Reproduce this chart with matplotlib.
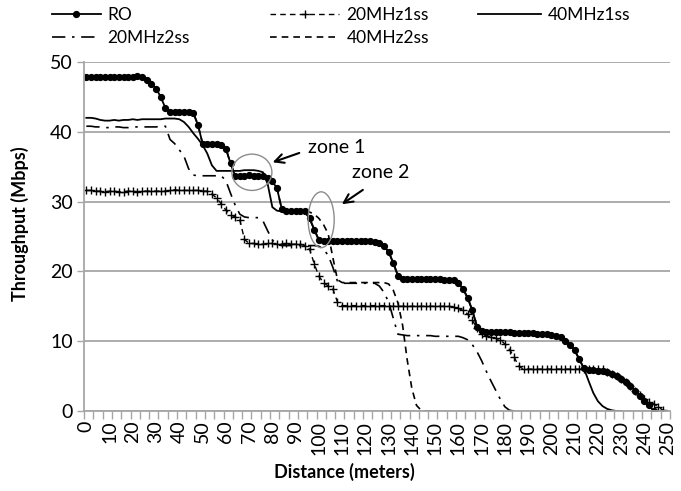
import numpy as np
import matplotlib.pyplot as plt
from matplotlib.patches import Ellipse

plt.rcParams['font.family'] = ['Lato', 'DejaVu Sans']

nan = np.nan

# distance in meters, one sample every 2 m
distance = list(range(0, 251, 2))

ro = [47.9, 47.9, 47.8, 47.9, 47.8, 47.8, 47.9, 47.9, 47.8, 47.8,
      47.9, 48.0, 47.8, 47.4, 46.9, 46.2, 45.0, 43.4, 42.8, 42.9,
      42.8, 42.8, 42.8, 42.7, 41.0, 38.3, 38.2, 38.2, 38.2, 38.1,
      37.6, 35.5, 33.7, 33.7, 33.7, 33.8, 33.7, 33.7, 33.6, 33.4,
      32.9, 31.9, 29.0, 28.7, 28.7, 28.7, 28.6, 28.6, 27.6, 26.0,
      24.5, 24.3, 24.3, 24.4, 24.3, 24.3, 24.3, 24.3, 24.3, 24.3,
      24.3, 24.3, 24.2, 24.1, 23.6, 22.8, 21.2, 19.4, 18.9, 18.9,
      18.9, 18.9, 18.9, 18.9, 18.9, 18.9, 18.9, 18.8, 18.8, 18.7,
      18.3, 17.5, 16.2, 14.4, 12.1, 11.4, 11.3, 11.3, 11.3, 11.3,
      11.3, 11.3, 11.2, 11.2, 11.2, 11.2, 11.2, 11.1, 11.1, 11.0,
      10.9, 10.8, 10.6, 10.1, 9.5, 8.7, 7.4, 6.1, 5.9, 5.9,
      5.8, 5.8, 5.6, 5.3, 5.0, 4.6, 4.1, 3.6, 2.9, 2.2,
      1.5, 0.8, 0.0, nan, nan, nan]

mhz20_1ss = [31.6, 31.6, 31.5, 31.5, 31.4, 31.5, 31.5, 31.4, 31.4, 31.5,
             31.5, 31.4, 31.5, 31.5, 31.5, 31.5, 31.5, 31.5, 31.6, 31.7,
             31.6, 31.6, 31.6, 31.6, 31.6, 31.5, 31.5, 31.1, 30.5, 29.7,
             28.8, 28.1, 27.8, 27.4, 24.6, 24.0, 24.0, 23.9, 23.9, 24.0,
             24.0, 23.9, 23.9, 24.0, 23.9, 23.9, 23.9, 23.7, 23.2, 21.1,
             19.3, 18.4, 17.9, 17.5, 15.6, 15.1, 15.1, 15.1, 15.1, 15.1,
             15.1, 15.1, 15.1, 15.1, 15.1, 15.0, 15.0, 15.0, 15.0, 15.0,
             15.0, 15.0, 15.0, 15.0, 15.0, 15.0, 15.0, 15.0, 15.0, 14.9,
             14.7, 14.4, 13.9, 13.0, 11.9, 11.0, 10.8, 10.6, 10.4, 10.2,
             9.6, 8.8, 7.7, 6.4, 6.0, 6.0, 6.0, 6.0, 6.0, 6.0,
             6.0, 6.0, 6.0, 6.0, 6.0, 6.0, 6.0, 6.0, 6.0, 6.0,
             6.0, 6.0, 5.6, 5.3, 5.0, 4.6, 4.1, 3.6, 2.9, 2.3,
             1.7, 1.3, 1.0, 0.6, 0.1, nan]

mhz40_1ss = [42.0, 42.0, 41.9, 41.7, 41.6, 41.6, 41.7, 41.6, 41.7, 41.7,
             41.8, 41.7, 41.8, 41.8, 41.8, 41.8, 41.8, 41.9, 41.9, 41.9,
             41.8, 41.4, 40.7, 39.8, 39.0, 38.1, 36.9, 35.2, 34.4, 34.4,
             34.4, 34.4, 34.4, 34.4, 34.5, 34.5, 34.5, 34.4, 34.2, 32.5,
             29.2, 28.7, 28.6, 28.6, 28.6, 28.6, 28.6, 28.5, 27.6, 26.0,
             24.5, 24.3, 24.3, 24.3, 24.3, 24.3, 24.3, 24.3, 24.3, 24.3,
             24.3, 24.3, 24.2, 24.1, 23.6, 22.8, 21.2, 19.4, 18.9, 18.9,
             18.9, 18.9, 18.9, 18.9, 18.9, 18.9, 18.9, 18.8, 18.8, 18.7,
             18.3, 17.5, 16.2, 14.4, 12.1, 11.4, 11.3, 11.3, 11.3, 11.3,
             11.3, 11.3, 11.2, 11.2, 11.2, 11.2, 11.2, 11.1, 11.1, 11.0,
             10.9, 10.8, 10.6, 10.1, 9.5, 8.7, 7.4, 6.1, 4.3, 2.6,
             1.4, 0.7, 0.3, 0.1, 0.0, 0.0, nan, nan, nan, nan,
             nan, nan, nan, nan, nan, nan]

mhz20_2ss = [40.8, 40.8, 40.7, 40.7, 40.6, 40.6, 40.7, 40.7, 40.6, 40.6,
             40.7, 40.7, 40.7, 40.7, 40.7, 40.7, 40.8, 40.8, 38.9, 38.3,
             37.4, 36.5, 34.7, 33.8, 33.7, 33.7, 33.7, 33.7, 33.7, 33.7,
             33.0, 31.2, 29.5, 28.2, 27.8, 27.7, 27.7, 27.7, 27.2, 25.8,
             24.5, 23.8, 23.7, 23.7, 23.7, 23.7, 23.7, 23.7, 23.7, 23.7,
             23.6, 23.2, 22.3, 20.6, 18.6, 18.3, 18.3, 18.3, 18.3, 18.3,
             18.3, 18.3, 18.3, 17.9, 17.0, 15.6, 13.3, 11.0, 10.9, 10.8,
             10.8, 10.8, 10.8, 10.8, 10.8, 10.7, 10.7, 10.7, 10.7, 10.7,
             10.7, 10.5, 10.2, 9.5, 8.5, 7.2, 5.7, 4.3, 3.0, 1.7,
             0.6, 0.1, 0.0] + [nan] * 33

mhz40_2ss = [47.9, 47.9, 47.8, 47.9, 47.8, 47.8, 47.9, 47.9, 47.8, 47.8,
             47.9, 48.0, 47.8, 47.4, 46.9, 46.2, 45.0, 43.4, 42.8, 42.9,
             42.8, 42.8, 42.8, 42.7, 41.0, 38.3, 38.2, 38.2, 38.2, 38.1,
             37.6, 35.5, 33.7, 33.7, 33.7, 33.8, 33.7, 33.7, 33.6, 33.4,
             32.9, 31.9, 29.0, 28.7, 28.7, 28.7, 28.6, 28.6, 28.5, 28.2,
             27.6, 26.7, 25.4, 22.0, 18.8, 18.4, 18.4, 18.4, 18.4, 18.4,
             18.4, 18.4, 18.4, 18.4, 18.4, 18.2, 17.3, 15.5, 12.3, 7.3,
             3.2, 0.8, 0.1, 0.0, 0.0] + [nan] * 51

y_ticks = [0, 10, 20, 30, 40, 50]
x_labels = list(range(0, 251, 10))

grey = '#a6a6a6'

fig = plt.figure(figsize=(6.81, 4.91), dpi=100)
ax = fig.add_axes([84 / 681, 80 / 491, 586 / 681, 349 / 491])

l_2ss20, = ax.plot(distance, mhz20_2ss, color='black', lw=1.2,
                   ls=(0, (8, 4, 1.5, 4)), label='20MHz2ss')
l_2ss40, = ax.plot(distance, mhz40_2ss, color='black', lw=1.2,
                   ls=(0, (4, 3)), label='40MHz2ss')
l_1ss40, = ax.plot(distance, mhz40_1ss, color='black', lw=1.3,
                   label='40MHz1ss')
l_1ss20, = ax.plot(distance, mhz20_1ss, color='black', lw=1.0,
                   ls=(0, (4, 3)), marker='+', ms=6, mew=1.0,
                   label='20MHz1ss')
l_ro, = ax.plot(distance, ro, color='black', lw=1.3, marker='o', ms=4.2,
                label='RO')

# zones
ax.add_patch(Ellipse((71.2, 34.2), 17.2, 5.2, fill=False,
                     edgecolor='#8c8c8c', lw=1.0, zorder=5))
ax.add_patch(Ellipse((101.0, 27.4), 11.2, 8.0, fill=False,
                     edgecolor='#8c8c8c', lw=1.0, zorder=5))
arrow = dict(arrowstyle='->', color='black', lw=1.5, mutation_scale=16)
ax.annotate('', xy=(79.0, 35.5), xytext=(92.7, 37.1), arrowprops=arrow)
ax.annotate('', xy=(108.9, 29.4), xytext=(119.9, 31.9), arrowprops=arrow)
ax.text(107.7, 37.8, 'zone 1', fontsize=14, ha='center', va='center')
ax.text(126.6, 34.1, 'zone 2', fontsize=14, ha='center', va='center')

ax.set_xlim(-1, 251)
ax.set_ylim(0, 50)
ax.set_yticks(y_ticks)
ax.set_xticks(x_labels)
ax.set_xticklabels([str(v) for v in x_labels], rotation=90)
ax.set_xticks(list(range(-1, 252, 4)), minor=True)
ax.tick_params(axis='x', which='major', length=0, pad=7, labelsize=14)
ax.tick_params(axis='x', which='minor', length=6, color=grey, width=1.0)
ax.tick_params(axis='y', length=5, color=grey, width=1.0, labelsize=14, pad=3)

ax.yaxis.grid(True, color=grey, lw=1.3)
ax.set_axisbelow(True)
for side in ['top', 'right']:
    ax.spines[side].set_visible(False)
for side in ['left', 'bottom']:
    ax.spines[side].set_color(grey)
    ax.spines[side].set_linewidth(1.3)

ax.set_xlabel('Distance (meters)', fontsize=13, fontweight='bold')
ax.set_ylabel('Throughput (Mbps)', fontsize=13, fontweight='bold')
ax.xaxis.label.set_va('center')
ax.yaxis.label.set_va('center')
ax.xaxis.set_label_coords(0.445, -0.175)
ax.yaxis.set_label_coords(-0.109, 0.536)

# legend, one block per column
cols = [([l_ro, l_2ss20], 52, 2.8), ([l_1ss20, l_2ss40], 270, 4.0),
        ([l_1ss40], 478, 3.6)]
for handles, px, hlen in cols:
    fig.legend(handles=handles, loc='upper left',
               bbox_to_anchor=(px / 681, 1 - 7 / 491), frameon=False,
               fontsize=12.5, numpoints=1, handlelength=hlen,
               handletextpad=0.4, labelspacing=0.42, borderpad=0,
               borderaxespad=0)

fig.savefig('out.png', dpi=100)
